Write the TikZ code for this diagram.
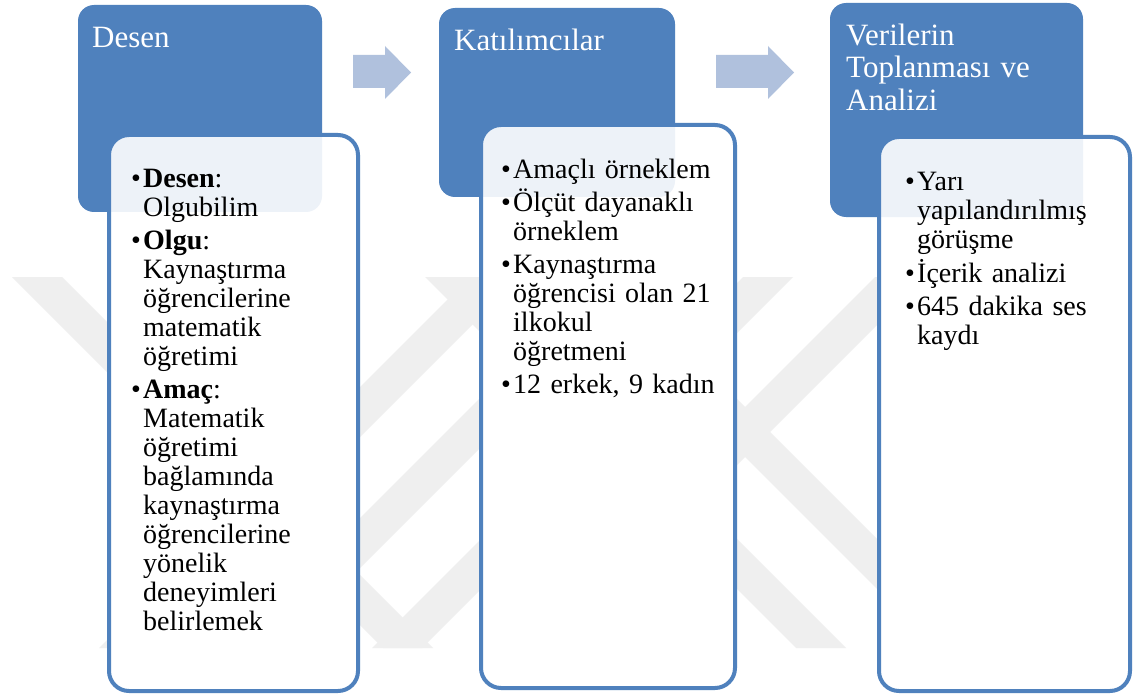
\documentclass[tikz,border=0pt]{standalone}
\usepackage{fontspec}
\setmainfont{Liberation Serif}
\definecolor{hdrblue}{HTML}{4F81BD}
\definecolor{arrowblue}{HTML}{B0C1DD}
\definecolor{markgray}{HTML}{EFEFEF}
\tikzset{
  hdrbox/.style={rectangle, rounded corners=16pt, fill=hdrblue, draw=none,
    inner sep=0pt, outer sep=0pt, anchor=north west},
  listbase/.style={rectangle, rounded corners=20pt, fill=white, draw=none,
    inner sep=0pt, outer sep=0pt, anchor=north west},
  listbox/.style={rectangle, rounded corners=20pt, fill=white, fill opacity=0.9,
    draw=hdrblue, line width=4pt, inner sep=0pt, outer sep=0pt, anchor=north west},
  hdrtext/.style={anchor=north west, inner sep=0pt, text=white, text width=240pt,
    align=left, font=\fontsize{31}{32.5}\selectfont},
  listtext/.style={anchor=north west, inner sep=0pt, text width=240pt,
    font=\fontsize{28}{29}\selectfont},
  band/.style={fill=markgray, draw=none},
  blockarrow/.style={fill=arrowblue, draw=none}
}
% one bulleted entry with a hanging indent
\newcommand\bitem[1]{\par\hangindent=12pt\hangafter=1\noindent\makebox[12pt][l]{•}#1\par}

\begin{document}
\begin{tikzpicture}[x=1pt, y=-1pt]
\useasboundingbox (0,0) rectangle (1136,698);
\fill[white] (0,0) rectangle (1136,698);

% faint diagonal bands in the background
\foreach \a in {12,425,565}
  \fill[band] (\a,277) -- (\a+50,277) -- (\a+421,648) -- (\a+371,648) -- cycle;
\foreach \a in {470,601,743,875}
  \fill[band] (\a,277) -- (\a+50,277) -- (\a-321,648) -- (\a-371,648) -- cycle;

% solid white under the list panels
\node[listbase, minimum width=249pt, minimum height=556pt] (w1) at (109,135) {};
\node[listbase, minimum width=254pt, minimum height=563pt] (w2) at (481,125) {};
\node[listbase, minimum width=251pt, minimum height=554pt] (w3) at (879,137) {};

% header panels
\node[hdrbox, minimum width=244pt, minimum height=207pt] (h1) at (78,5) {};
\node[hdrbox, minimum width=236pt, minimum height=189pt] (h2) at (439,8) {};
\node[hdrbox, minimum width=253pt, minimum height=214pt] (h3) at (830,3) {};

% list panels, slightly see-through over the headers
\node[listbox, minimum width=249pt, minimum height=556pt] (b1) at (109,135) {};
\node[listbox, minimum width=254pt, minimum height=563pt] (b2) at (481,125) {};
\node[listbox, minimum width=251pt, minimum height=554pt] (b3) at (879,137) {};

% block arrows between the steps
\fill[blockarrow] (353,55) -- (385,55) -- (385,46) -- (411,72.5) -- (385,99) -- (385,88) -- (353,88) -- cycle;
\fill[blockarrow] (716,55) -- (768,55) -- (768,46) -- (794,72.5) -- (768,99) -- (768,88) -- (716,88) -- cycle;

% header titles
\node[hdrtext] (t1) at (92,19) {\rule{0pt}{28pt}Desen};
\node[hdrtext] (t2) at (454,22) {\rule{0pt}{28pt}Katılımcılar};
\node[hdrtext] (t3) at (846,17) {\rule{0pt}{28pt}Verilerin\\Toplanması ve\\Analizi};

% list contents
\node[listtext] (l1) at (131,154) {\setlength\parskip{4pt}%
  \bitem{\rule{0pt}{26pt}\textbf{Desen}:\newline Olgubilim}
  \bitem{\textbf{Olgu}:\newline Kaynaştırma\newline öğrencilerine\newline matematik\newline öğretimi}
  \bitem{\textbf{Amaç}:\newline Matematik\newline öğretimi\newline bağlamında\newline kaynaştırma\newline öğrencilerine\newline yönelik\newline deneyimleri\newline belirlemek}};
\node[listtext] (l2) at (501,145) {\setlength\parskip{4pt}%
  \bitem{\rule{0pt}{26pt}Amaçlı örneklem}
  \bitem{Ölçüt dayanaklı\newline örneklem}
  \bitem{Kaynaştırma\newline öğrencisi olan 21\newline ilkokul\newline öğretmeni}
  \bitem{12 erkek, 9 kadın}};
\node[listtext] (l3) at (905,157) {\setlength\parskip{4pt}%
  \bitem{\rule{0pt}{26pt}Yarı\newline yapılandırılmış\newline görüşme}
  \bitem{İçerik analizi}
  \bitem{645 dakika ses\newline kaydı}};
\end{tikzpicture}
\end{document}
